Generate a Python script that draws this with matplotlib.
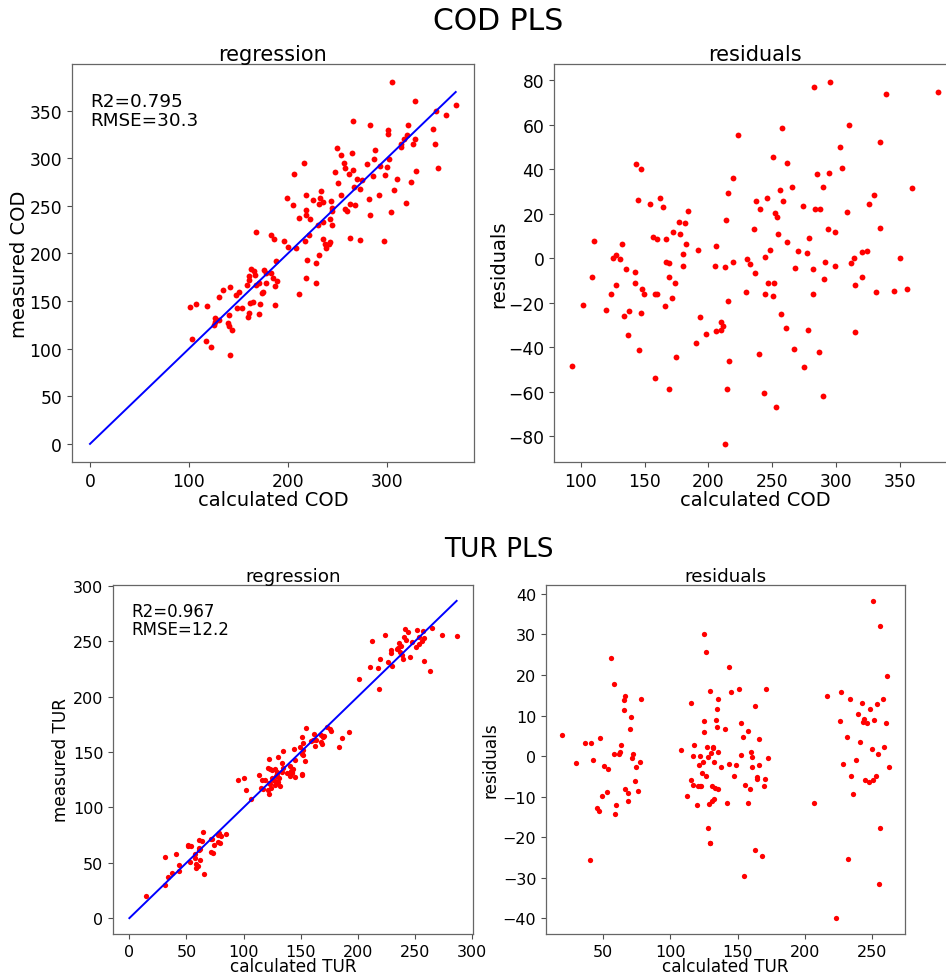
import numpy as np
import matplotlib
matplotlib.use("Agg")
import matplotlib.pyplot as plt

# --- data: (measured, measured - calculated) ---
cod_measured = np.array([
    93.2, 101.8, 108.4, 110.4, 119.9, 123.8, 125.3, 127.2, 127.7, 130.6, 132.4, 133.7,
    135.3, 136.6, 137.4, 142.6, 142.3, 143.4, 144.4, 145.7, 147.1, 147.3, 147.8, 149.1,
    154.3, 156.7, 157.7, 158.0, 159.3, 159.3, 161.9, 164.5, 165.8, 167.1, 166.6, 168.9,
    169.2, 169.2, 171.1, 172.6, 173.9, 174.5, 176.8, 177.8, 179.7, 179.7, 181.5, 182.5,
    184.1, 189.9, 191.7, 193.5, 198.0, 205.3, 205.8, 206.3, 209.5, 209.5, 211.8, 212.9,
    213.4, 213.6, 214.2, 215.2, 215.7, 216.5, 219.4, 219.4, 223.0, 229.6, 230.1, 232.7,
    235.8, 236.4, 237.1, 240.0, 240.8, 243.7, 244.2, 244.7, 245.8, 247.1, 248.1, 250.5,
    250.5, 251.8, 252.0, 252.8, 253.9, 254.9, 256.0, 257.3, 257.8, 258.3, 260.9, 261.4,
    261.4, 265.9, 266.9, 268.2, 270.1, 274.0, 275.3, 277.4, 278.5, 278.7, 281.8, 282.1,
    283.1, 283.9, 285.5, 287.0, 287.3, 289.7, 289.7, 290.4, 291.5, 293.6, 294.9, 295.4,
    299.3, 299.3, 303.5, 305.1, 309.0, 310.3, 311.9, 314.5, 314.7, 315.3, 320.2, 320.2,
    324.1, 325.7, 329.9, 331.2, 334.9, 334.9, 339.6, 345.3, 350.0, 355.8, 359.7, 380.3,
])
cod_residual = np.array([
    -48.2, -20.8, -8.4, 7.8, -23.2, -16.2, 0.1, -12.0, 1.5, -0.1, 6.4, -25.8,
    -4.8, -34.5, -23.5, -6.1, -10.9, 42.4, 26.2, -41.3, -24.6, 40.4, -13.6, -15.9,
    24.3, 9.4, -53.9, -16.2, -16.0, 8.7, 27.1, 23.2, -21.6, 8.7, -1.5, -2.1,
    -58.9, -8.4, -17.7, 11.7, -10.9, -44.3, 16.3, 10.9, 1.8, -3.4, 15.9, 6.4,
    21.3, -38.1, 4.0, -26.2, -33.9, -3.4, -32.5, 5.8, -28.5, -32.4, -30.6, -4.0,
    -83.4, 17.2, -58.9, 29.2, -19.3, -46.0, -1.5, 36.1, 55.6, -15.3, -0.4, -2.5,
    13.3, -6.4, 25.6, -43.0, 22.0, -60.5, -15.9, 0.6, 27.0, -10.9, 3.6, 45.4,
    -16.9, -11.1, 20.4, -67.0, 18.4, 11.1, 30.6, -24.9, 58.6, 25.9, -31.2, 7.5,
    42.7, 32.2, -40.7, -4.3, 3.4, 23.5, -49.0, 2.4, -32.1, 9.1, -4.6, -15.9,
    77.0, 22.3, 38.1, -42.2, 22.0, 31.9, -61.7, -9.3, -1.5, 13.3, 38.5, 79.4,
    11.8, -3.3, 49.9, 40.7, 20.7, 60.2, -2.1, 0.1, -12.0, -33.0, 3.1, -8.4,
    3.3, 24.3, 28.6, -15.0, 52.3, 13.5, 74.0, -14.7, 0.3, -13.8, 31.5, 74.9,
])

tur_measured = np.array([
    19.7, 29.9, 36.8, 40.8, 40.0, 42.8, 45.7, 46.7, 47.9, 48.9, 50.6, 52.6,
    53.9, 55.6, 57.8, 58.3, 59.0, 59.8, 61.6, 62.6, 63.5, 65.2, 65.5, 66.0,
    66.2, 68.2, 68.7, 69.8, 70.7, 71.7, 71.9, 73.9, 74.7, 75.9, 77.1, 78.1,
    107.6, 112.0, 115.5, 115.5, 116.7, 117.9, 117.1, 119.7, 121.0, 120.5, 121.7, 122.1,
    122.9, 123.6, 124.4, 125.1, 125.1, 125.1, 126.1, 126.1, 126.9, 127.6, 128.1, 128.8,
    129.3, 129.3, 129.8, 130.3, 130.8, 131.1, 131.3, 131.6, 132.1, 132.1, 133.1, 133.6,
    134.3, 134.6, 135.1, 135.3, 135.7, 137.7, 140.5, 141.8, 143.2, 143.9, 145.4, 147.4,
    148.6, 150.8, 152.1, 152.6, 154.1, 154.4, 155.8, 157.3, 158.0, 159.5, 160.1, 160.8,
    160.6, 162.7, 163.2, 164.0, 164.7, 165.5, 166.0, 168.1, 169.4, 170.4, 171.4, 172.7,
    206.8, 216.2, 222.9, 225.9, 226.4, 228.0, 231.1, 232.3, 233.6, 234.2, 236.0, 238.0,
    239.3, 240.7, 242.4, 243.2, 244.2, 244.7, 246.0, 247.4, 248.1, 249.6, 250.4, 250.6,
    251.1, 253.1, 253.5, 254.3, 255.0, 255.8, 256.0, 258.3, 259.0, 260.2, 260.9, 262.2,
])
tur_residual = np.array([
    5.3, -1.7, 3.3, 3.3, -25.7, -0.9, -12.9, -13.6, 4.4, -9.8, -2.5, -8.8,
    -3.2, 24.1, 0.6, 17.9, -14.3, -12.0, 0.4, 1.0, 2.7, 11.3, 13.8, 14.9,
    -8.2, -11.1, -9.2, 6.6, 9.6, -0.6, 0.4, -6.1, -2.8, -8.6, -1.4, 14.0,
    1.5, -9.9, 13.2, -5.9, -0.1, 2.7, -7.2, -12.1, -2.3, -7.3, -7.3, 0.0,
    -7.3, -4.3, -1.5, 30.1, 8.7, 6.0, 25.7, -5.0, 2.3, -17.8, -0.3, -11.8,
    16.0, -21.4, -21.5, 0.8, -7.3, -11.1, 2.3, 2.0, -10.7, -1.5, -8.0, 9.0,
    7.1, 11.7, -8.2, 14.1, 1.1, -2.7, 6.7, -11.7, -1.9, 21.9, 15.7, -5.0,
    -2.3, 16.5, 0.2, 8.2, 4.8, -29.5, -7.1, -11.6, 6.1, -8.2, 1.0, -0.2,
    -2.7, -23.2, 12.4, -5.1, -5.6, -2.2, 4.1, -24.6, -7.3, -5.6, 16.6, -0.5,
    -11.5, 14.9, -40.0, 8.6, 15.7, -1.9, 4.8, -25.3, 14.0, -5.0, -9.3, -0.9,
    10.5, 3.5, 13.2, 8.5, 9.2, -5.9, 8.1, -6.4, 11.7, 1.8, -6.0, 38.3,
    9.0, -5.0, 12.9, 0.4, -31.5, -17.8, 32.1, 14.2, 2.3, 8.2, 19.7, -2.8,
])

cod_stats = "R2=0.795\nRMSE=30.3"
tur_stats = "R2=0.967\nRMSE=12.2"

W, H = 946, 978


def _px(left, top, right, bottom):
    """Axes rectangle from pixel edges (origin top-left)."""
    return [left / W, 1 - bottom / H, (right - left) / W, (bottom - top) / H]


def _style(ax, fs_tick):
    ax.tick_params(labelsize=fs_tick, length=3.5, width=0.8, color="0.3")
    for sp in ax.spines.values():
        sp.set_color("0.4")
        sp.set_linewidth(0.9)


def draw_row(fig, name, measured, residual, stats, rect_l, rect_r, title_y, fs):
    calculated = measured - residual

    ax1 = fig.add_axes(rect_l)
    ax1.plot(calculated, measured, "o", color="red", ms=fs["ms"], mew=0)
    ax1.plot([0, calculated.max()], [0, calculated.max()], color="blue", lw=1.4)
    ax1.set_title("regression", fontsize=fs["title"], pad=3)
    ax1.set_xlabel(f"calculated {name}", fontsize=fs["label"], labelpad=fs["xpad"])
    ax1.set_ylabel(f"measured {name}", fontsize=fs["label"], labelpad=fs["ypad"])
    ax1.text(fs["sx"], fs["sy"], stats, transform=ax1.transAxes, ha="left", va="top",
             fontsize=fs["stats"], linespacing=fs["ls"])
    _style(ax1, fs["tick"])

    ax2 = fig.add_axes(rect_r)
    ax2.plot(measured, residual, "o", color="red", ms=fs["ms"], mew=0)
    ax2.set_title("residuals", fontsize=fs["title"], pad=3)
    ax2.set_xlabel(f"calculated {name}", fontsize=fs["label"], labelpad=fs["xpad"])
    ax2.set_ylabel("residuals", fontsize=fs["label"], labelpad=fs["ypad"])
    _style(ax2, fs["tick"])

    fig.text(0.527, title_y, f"{name} PLS", ha="center", va="center", fontsize=fs["suptitle"])
    return ax1, ax2


fig = plt.figure(figsize=(W / 100, H / 100), dpi=100)

top_fs = dict(tick=12.3, title=15, label=14, stats=13.2, suptitle=21.5, ms=4.2, xpad=0,
              ypad=0, sx=0.045, sy=0.93, ls=1.1)
bot_fs = dict(tick=11.5, title=13.2, label=12.2, stats=12, suptitle=19, ms=3.8, xpad=-1,
              ypad=2, sx=0.05, sy=0.95, ls=1.0)

draw_row(fig, "COD", cod_measured, cod_residual, cod_stats,
         _px(71.7, 64.7, 474, 463), _px(554, 64.7, 956.5, 463), 1 - 22 / H, top_fs)
draw_row(fig, "TUR", tur_measured, tur_residual, tur_stats,
         _px(113, 586, 473, 935), _px(546, 586, 905, 935), 1 - 550 / H, bot_fs)

fig.savefig("out.png", dpi=100)
